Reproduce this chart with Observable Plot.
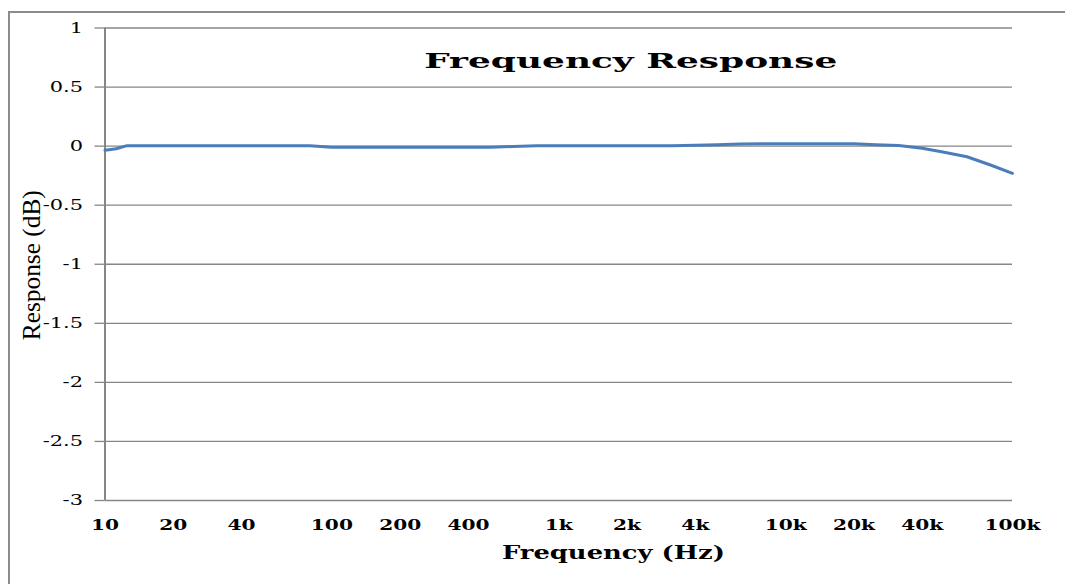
<!DOCTYPE html>
<html>
<head>
<meta charset="utf-8">
<script src="https://cdn.jsdelivr.net/npm/d3@7"></script>
<script src="https://cdn.jsdelivr.net/npm/@observablehq/plot@0.6"></script>
<style>
  html, body { margin: 0; padding: 0; background: #fff; }
  #wrap { position: relative; width: 1065px; height: 584px; overflow: hidden; }
  #frame { position: absolute; left: 8px; top: 11px; width: 1100px; height: 600px;
           border-left: 2px solid #8c8c8c; border-top: 2px solid #8c8c8c; box-sizing: border-box; }
  #chart { position: absolute; left: 0; top: 0; }
</style>
</head>
<body>
<div id="wrap">
  <div id="frame"></div>
  <div id="chart"></div>
</div>
<script>
const freqs = [10, 11.2, 12.5, 16, 20, 25, 31.5, 40, 50, 63, 80, 100, 125, 160, 200, 250, 315, 400, 500, 630, 800,
  1000, 1250, 1600, 2000, 2500, 3150, 4000, 5000, 6300, 8000, 10000, 12500, 16000, 20000, 25000, 31500,
  40000, 50000, 63000, 80000, 100000];
const response = [-0.035, -0.022, 0.004, 0.004, 0.004, 0.004, 0.004, 0.004, 0.004, 0.004, 0.003, -0.009, -0.01, -0.01, -0.01, -0.01, -0.01, -0.01, -0.01, -0.003, 0.003,
  0.003, 0.003, 0.003, 0.003, 0.003, 0.004, 0.008, 0.012, 0.018, 0.02, 0.02, 0.02, 0.02, 0.02, 0.012, 0.005,
  -0.018, -0.052, -0.09, -0.16, -0.23];
const xTicks = [10, 20, 40, 100, 200, 400, 1000, 2000, 4000, 10000, 20000, 40000, 100000];
const yTicks = [1, 0.5, 0, -0.5, -1, -1.5, -2, -2.5, -3];
const titleText = "Frequency Response";
const xLabel = "Frequency (Hz)";
const yLabel = "Response (dB)";

const data = freqs.map((f, i) => ({f, r: response[i]}));
const fmtX = d => d >= 1000 ? (d / 1000) + "k" : String(d);

const plot = Plot.plot({
  width: 1065,
  height: 584,
  marginLeft: 104.5,
  marginRight: 53,
  marginTop: 27.5,
  marginBottom: 84,
  style: {fontFamily: "DejaVu Serif, serif", fontSize: "15px", color: "#000", background: "transparent", overflow: "visible"},
  x: {type: "log", domain: [10, 100000], axis: null},
  y: {domain: [-3, 1]},
  marks: [
    Plot.gridY(yTicks, {stroke: "#868686", strokeOpacity: 1, strokeWidth: 1.3}),
    Plot.axisY(yTicks, {tickSize: 10, stroke: "#868686", strokeWidth: 1.3, tickFormat: () => "", label: null}),
    Plot.ruleX([10], {stroke: "#868686", strokeWidth: 2}),
    Plot.line(data, {x: "f", y: "r", stroke: "#4a7ebb", strokeWidth: 3}),
    Plot.text(yTicks, {y: d => d, text: d => String(d), frameAnchor: "left", dx: -22,
      textAnchor: "end", lineAnchor: "middle", fontSize: 15.5, fill: "#000"}),
    Plot.text(xTicks, {x: d => d, text: fmtX, frameAnchor: "bottom", dy: 25,
      lineAnchor: "middle", fontSize: 15.5, fontWeight: "bold", fill: "#000"}),
    Plot.text([xLabel], {frameAnchor: "bottom", dx: 54.7, dy: 52, lineAnchor: "middle",
      fontSize: 19, fontWeight: "bold", fill: "#000"}),
    Plot.text([yLabel], {frameAnchor: "left", textAnchor: "middle", dx: -73, dy: 1, rotate: -90, lineAnchor: "middle",
      fontSize: 25, fontFamily: "Liberation Serif, serif", fill: "#000"}),
    Plot.text([titleText], {frameAnchor: "top", dx: 72, dy: 40, lineAnchor: "bottom",
      fontSize: 21, fontWeight: "bold", fill: "#000"})
  ]
});
document.getElementById("chart").appendChild(plot);

const textGroups = d3.select(plot).selectAll("g[aria-label='text']").nodes();
function stretch(idx, fn) {
  const g = textGroups[idx];
  if (!g) return;
  d3.select(g).selectAll("text").each(function() {
    const w = this.getComputedTextLength();
    if (!w) return;
    this.setAttribute("textLength", fn(w));
    this.setAttribute("lengthAdjust", "spacingAndGlyphs");
  });
}
stretch(0, w => w * 1.35);
stretch(1, w => w * 1.3);
stretch(2, w => 223);
stretch(3, w => 150);
stretch(4, w => 413);
</script>
</body>
</html>
